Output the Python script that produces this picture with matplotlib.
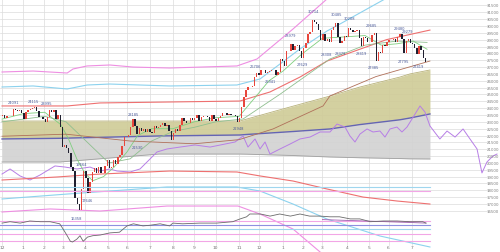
import matplotlib
matplotlib.use("Agg")
import matplotlib.pyplot as plt

# ---------------- data ----------------
# first trading-day index of each month (Dec 2019 .. Jul 2021)
month_start = [0, 20, 39, 57, 78, 99, 117, 139, 160, 180, 200, 222, 241, 263, 282, 300, 323, 344, 362, 384]
month_label = ["12", "1", "2", "3", "4", "5", "6", "7", "8", "9", "10", "11", "12",
               "1", "2", "3", "4", "5", "6", "7"]

# closes, one candle per two sessions
closes = [
    23530, 23300, 23410, 23430, 23420, 23930, 23860, 23820, 23840, 23660,          # Dec 19
    23200, 23740, 23850, 23920, 24040, 24080, 23800, 23340, 23380, 23200,          # Jan 20
    22970, 23320, 23870, 23690, 23830, 23190, 23480, 22600, 21140,                 # Feb
    21340, 21100, 20750, 19700, 19420, 17430, 17000, 16550, 18090, 19390, 18920,   # Mar
    17820, 18580, 19350, 19640, 19290, 19670, 19280, 19260, 19770, 20190,          # Apr
    19620, 19670, 20180, 19910, 20430, 20550, 21270, 21920, 21880,                 # May
    22060, 22610, 23180, 22700, 22120, 22580, 22360, 22480, 22260, 22510, 22290,   # Jun
    22150, 22710, 22520, 22590, 22770, 22880, 22720, 22750, 22340, 21710,          # Jul
    22200, 22510, 22330, 22750, 23250, 23050, 22880, 22920, 23300, 23140,          # Aug
    23250, 23470, 23090, 23320, 23410, 23450, 23360, 23090, 23510, 23190,          # Sep
    23030, 23310, 23420, 23650, 23620, 23510, 23570, 23470, 23490, 23420, 22980,   # Oct
    23300, 24100, 24840, 25350, 25520, 25530, 25630, 26300, 26540, 26430,          # Nov
    26800, 26750, 26550, 26650, 26730, 26810, 26760, 26440, 26660, 27570, 27440,   # Dec
    27060, 28140, 28160, 28700, 28240, 28520, 28630, 28200, 27660,                 # Jan 21
    28360, 28780, 29390, 29560, 30470, 30290, 30160, 29670, 28970,                 # Feb
    29410, 28930, 29030, 28860, 29720, 29920, 30220, 29170, 28730, 28880, 29280, 29180,  # Mar
    29850, 29700, 29540, 29640, 29680, 29100, 28510, 29190, 29130, 28810,          # Apr
    28810, 29330, 29520, 27450, 28090, 28040, 28640, 28550, 28860,                 # May
    28950, 28940, 29020, 28860, 29160, 29440, 29020, 28010, 28880, 29070, 28790,   # Jun
    28710, 28370, 27940, 28570, 28280, 27650, 27390,                               # Jul
]
first_open = 23450

# swing labels (session index, price, above?)
swing_day = [11, 29, 42, 70, 74, 80, 123, 127, 221, 237, 251, 270, 281, 292, 304, 313, 317, 325, 337, 346, 348, 372, 376, 380, 390]
swing_px = [24091, 24115, 23995, 16358, 19564, 17646, 23185, 21530, 22948, 26706, 26341, 28979, 27629, 30714,
            28308, 30485, 28379, 30208, 28419, 29685, 27385, 29480, 27795, 29279, 27419]
swing_up = [1, 1, 1, 0, 1, 0, 1, 0, 0, 1, 0, 1, 0, 1, 0, 1, 0, 1, 0, 1, 0, 1, 0, 1, 0]

# envelope bands (session index, price)
pink_hi_d = [0, 29, 61, 66.5, 79.6, 101, 122.7, 157, 220, 238.8, 272.5, 304.3, 321]
pink_hi_v = [26640, 26710, 26565, 26860, 27080, 27150, 27000, 26930, 27080, 27590, 29780, 31970, 32800]
cyan_hi_d = [0, 29, 61, 79.6, 101, 157, 220, 241.6, 279, 304.3, 316.4, 358.6, 368]
cyan_hi_v = [25545, 25620, 25400, 25690, 25760, 25620, 25690, 26130, 28320, 29630, 30140, 31970, 32400]
red_hi_d = [0, 61, 91.8, 157, 222.8, 250.9, 279, 304.3, 335, 360, 400.7]
red_hi_v = [24160, 24160, 24380, 24450, 24520, 25180, 26270, 27440, 28300, 29000, 29700]
red_lo_d = [0, 51.5, 91.8, 157, 220, 241.6, 272.5, 304.3, 338, 370, 400.7]
red_lo_v = [18755, 18975, 19190, 19410, 19340, 19050, 18680, 18100, 17510, 17220, 17000]
cyan_lo_d = [0, 61, 154.5, 220, 241.6, 272.5, 304.3, 354, 400.7]
cyan_lo_v = [17370, 17730, 18245, 18245, 17950, 17000, 15905, 14665, 13865]
pink_lo_d = [0, 45, 91.8, 154.5, 221, 241.6, 272.5, 297.8, 310]
pink_lo_v = [16420, 16640, 16490, 16855, 16855, 16270, 15175, 13500, 12800]

# cloud-like band: top, middle, bottom
band_d = [0, 54.3, 147, 222.8, 229.4, 269.7, 307, 335, 372.6, 382, 400.7]
band_top = [23060, 23060, 23060, 23060, 23210, 24085, 24880, 25540, 26270, 26500, 26785]
band_mid = [21750, 21800, 21970, 22040, 22080, 22280, 22480, 22800, 23150, 23280, 23575]
band_bot = [20070, 20070, 20650, 20650, 20640, 20550, 20435, 20380, 20320, 20300, 20290]

# moving averages
ma25_d = [0, 20, 40, 55, 62, 70, 78, 85, 95, 105, 117, 127, 140, 160, 180, 200, 222, 235, 250, 263, 280, 300, 320, 340, 355, 370, 385, 398]
ma25_v = [23200, 23600, 23700, 22800, 21800, 20300, 19200, 18700, 19000, 19700, 20800, 22000, 22500, 22500, 23000,
          23300, 23400, 24600, 26000, 26700, 27900, 29100, 29200, 29300, 28600, 28700, 28900, 28300]
ma75_d = [0, 40, 60, 80, 100, 120, 140, 160, 180, 200, 225.7, 260, 307, 340, 370, 398]
ma75_v = [23000, 23400, 23000, 21500, 20000, 20300, 21600, 22300, 22600, 23000, 23210, 25000, 27590, 28600, 28900, 28800]
ma200_d = [0, 60, 120, 180, 222, 253.7, 300.6, 307, 350, 400.7]
ma200_v = [21950, 22100, 21600, 21400, 21700, 22480, 24160, 24890, 26300, 27440]

# lavender indicator line
vio_d = [0, 7.5, 16.9, 26.2, 35.6, 44.9, 49.6, 59, 70.2, 82.4, 91.8, 101.1, 107.7, 119.9, 129.2, 138.6, 145.1,
         154.5, 166.7, 180.7, 194.8, 208.8, 218.2, 225.7, 230.3, 236.9, 241.6, 246.3, 250.9, 260.3, 269.7, 279,
         288.4, 297.8, 307.1, 313.7, 321.2, 325.8, 330.5, 335.2, 341.8, 347.4, 353.9, 358.6, 363.3, 369.8, 374.5,
         379.2, 383.9, 391.4, 396, 400.7, 410, 416.7, 424.2, 431.7, 438.2, 444.8, 449.4, 454.1, 459.7, 463.5]
vio_v = [19190, 19560, 19050, 18755, 19120, 19560, 19780, 19700, 19560, 19700, 19410, 19560, 19410, 19340, 19560,
         20290, 20800, 21020, 21160, 21310, 21160, 21380, 21530, 21970, 21160, 21750, 21020, 21530, 20650, 21020,
         21380, 21750, 21890, 22260, 22260, 22840, 22620, 21970, 21530, 22110, 22480, 22260, 22330, 21890, 22480,
         22620, 22260, 22620, 23210, 24160, 23720, 22700, 21750, 22330, 21890, 22480, 21750, 21020, 19270, 20070,
         20510, 20650]

# oscillator (lower panel, 0..100 scale)
osc_d = [0, 7.5, 17, 26, 36, 45, 54, 57, 61, 64, 66, 70, 73, 76, 80, 85, 92, 101, 110, 117, 123, 132, 139, 148,
         157, 160, 169, 185, 201, 216, 223, 229, 232, 242, 251, 260, 270, 279, 288, 298, 307, 316, 326, 335, 345,
         357, 370, 382, 394, 397]
osc_v = [37, 39, 37, 40, 39, 39, 36, 29, 19, 11, 10, 14, 19, 11, 17, 19, 20, 23, 24, 33, 36, 33, 34, 36, 33, 37,
         36, 37, 37, 39, 43, 46, 50, 50, 47, 50, 47, 50, 47, 47, 46, 46, 43, 43, 39, 40, 40, 39, 39, 37]
sig_d = [300, 320, 340, 360, 380, 397]
sig_v = [42, 41, 40, 39, 38, 37]
osc_levels = [88.6, 82.9, 40, 34.3, 28.6, 21.4, 11.4]
osc_level_colors = ["#9fd6ee", "#f2a6e6", "#f2a6e6", "#8f8fe0", "#9fd6ee", "#f2a6e6", "#f2a6e6"]

price_ticks = list(range(31500, 16000, -500))

# ---------------- figure ----------------
W, H = 500, 253
fig = plt.figure(figsize=(W / 100, H / 100), dpi=100)
ax = fig.add_axes([0, 0, 1, 1])
ax.set_xlim(-1.9, 466.3)
ax.set_ylim(13499, 31968)
ax.axis("off")

grid_c = "#dcdcdc"
for p in price_ticks:
    ax.plot([-1.9, 455], [p, p], color=grid_c, lw=0.5, zorder=0)
for d in month_start:
    ax.axvline(d, ymin=0.028, ymax=1, color=grid_c, lw=0.5, zorder=0)

# band fills
ax.fill_between(band_d, band_mid, band_top, color="#cfcb96", alpha=0.9, lw=0, zorder=1)
ax.fill_between(band_d, band_bot, band_mid, color="#d2d2d2", alpha=0.9, lw=0, zorder=1)
ax.plot(band_d, band_top, color="#b8b27a", lw=0.6, zorder=2)
ax.plot(band_d, band_mid, color="#6464b4", lw=1.0, zorder=2)
ax.plot(band_d, band_bot, color="#a0a0a0", lw=0.6, zorder=2)

ax.plot(vio_d, vio_v, color="#b77ee6", lw=0.7, zorder=2)

ax.plot(pink_hi_d, pink_hi_v, color="#ee8ee2", lw=0.8, zorder=2)
ax.plot(pink_lo_d, pink_lo_v, color="#ee8ee2", lw=0.8, zorder=2)
ax.plot(cyan_hi_d, cyan_hi_v, color="#8cd2ee", lw=0.8, zorder=2)
ax.plot(cyan_lo_d, cyan_lo_v, color="#8cd2ee", lw=0.8, zorder=2)
ax.plot(red_hi_d, red_hi_v, color="#ee7070", lw=0.8, zorder=2)
ax.plot(red_lo_d, red_lo_v, color="#ee7070", lw=0.8, zorder=2)

ax.plot(ma25_d, ma25_v, color="#7fcf7f", lw=0.6, zorder=3)
ax.plot(ma75_d, ma75_v, color="#8fbf8f", lw=0.6, zorder=3)
ax.plot(ma200_d, ma200_v, color="#b0705a", lw=0.6, zorder=3)

# candles (body from previous close to close)
opens = [first_open] + closes[:-1]
for i, (o, c) in enumerate(zip(opens, closes)):
    x = 2 * i + 0.5
    col = "#e8463c" if c >= o else "#202030"
    ax.bar(x, max(abs(c - o), 40), bottom=min(o, c), width=1.3, color=col, lw=0, zorder=4)

for d, p, up in zip(swing_day, swing_px, swing_up):
    ax.text(d, p + (230 if up else -230), str(p), fontsize=2.6, color="#4a5a9a",
            ha="center", va="bottom" if up else "top", zorder=5)

# price labels on the right
for p in price_ticks:
    ax.text(459.7, p, str(p), fontsize=2.8, color="#808080", ha="center", va="center", zorder=6)

# month labels
for d, t in zip(month_start, month_label):
    ax.text(d, 0.012, t, fontsize=3.2, color="#707070", ha="center", va="bottom",
            transform=ax.get_xaxis_transform(), zorder=6)

# oscillator panel
ax2 = fig.add_axes([0, 3 / H, 1, 70 / H])
ax2.set_xlim(-1.9, 466.3)
ax2.set_ylim(0, 100)
ax2.axis("off")
ax2.patch.set_alpha(0)
for lv, lc in zip(osc_levels, osc_level_colors):
    ax2.plot([-1.9, 400.7], [lv, lv], color=lc, lw=0.8, zorder=1)
ax2.plot(osc_d, osc_v, color="#6a6a6a", lw=0.6, zorder=3)
ax2.plot(sig_d, sig_v, color="#a060b0", lw=0.6, zorder=2)

fig.savefig("out.png", dpi=100)
